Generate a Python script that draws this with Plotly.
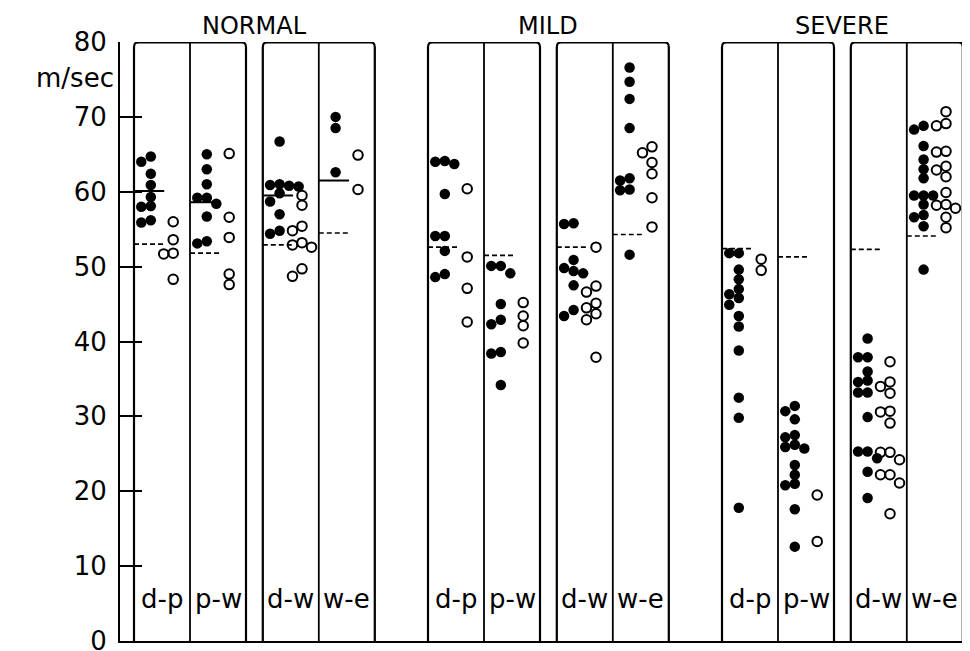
import plotly.graph_objects as go

# ---------------- data (m/sec) ----------------
groups = ["NORMAL", "MILD", "SEVERE"]
segments = ["d-p", "p-w", "d-w", "w-e"]
y_tick_values = [0, 10, 20, 30, 40, 50, 60, 70, 80]
y_tick_labels = ["0", "10", "20", "30", "40", "50", "60", "70", "80"]

normal_dp_filled = [64.7, 64.0, 62.4, 60.9, 59.3, 58.0, 58.1, 55.9, 56.2]
normal_dp_open = [56.0, 53.6, 51.7, 51.8, 48.3]
normal_pw_filled = [65.0, 63.0, 61.0, 59.2, 59.2, 58.4, 56.7, 53.1, 53.4]
normal_pw_open = [65.1, 56.6, 53.9, 49.0, 47.6]
normal_dw_filled = [66.7, 61.0, 60.8, 60.9, 60.7, 59.8, 58.7, 57.0, 54.8, 54.4]
normal_dw_open = [59.5, 58.2, 55.4, 54.8, 52.6, 53.2, 52.9, 49.7, 48.7]
normal_we_filled = [70.0, 68.5, 62.6]
normal_we_open = [64.9, 60.3]

mild_dp_filled = [64.0, 63.7, 64.1, 59.7, 54.1, 54.1, 52.1, 49.0, 48.6]
mild_dp_open = [60.4, 51.3, 47.1, 42.6]
mild_pw_filled = [50.1, 49.1, 50.1, 45.0, 42.3, 42.9, 38.4, 38.6, 34.2]
mild_pw_open = [45.2, 43.4, 42.1, 39.8]
mild_dw_filled = [55.8, 55.7, 50.9, 49.1, 49.8, 49.4, 47.5, 43.4, 44.2]
mild_dw_open = [52.6, 47.4, 46.6, 45.1, 44.5, 43.7, 42.9, 37.9]
mild_we_filled = [76.6, 74.7, 72.4, 68.5, 61.8, 61.5, 60.3, 60.2, 51.6]
mild_we_open = [66.0, 65.2, 63.9, 62.4, 59.2, 55.3]

severe_dp_filled = [51.8, 51.8, 49.6, 48.3, 47.0, 45.8, 46.3, 44.9, 43.4, 42.0,
                    38.8, 32.5, 29.8, 17.8]
severe_dp_open = [51.0, 49.5]
severe_pw_filled = [31.4, 30.7, 29.6, 27.5, 27.2, 25.7, 26.2, 25.9, 23.5, 22.2,
                    20.8, 21.0, 17.6, 12.6]
severe_pw_open = [19.5, 13.3]
severe_dw_filled = [40.4, 37.9, 37.9, 36.0, 34.6, 34.8, 33.2, 33.2, 29.9, 25.3,
                    25.3, 24.4, 22.6, 19.1]
severe_dw_open = [37.3, 34.6, 34.0, 33.1, 30.6, 30.7, 29.1, 25.2, 25.2, 24.2,
                  22.2, 22.2, 21.1, 17.0]
severe_we_filled = [68.8, 68.3, 66.1, 64.3, 63.0, 61.8, 59.5, 59.5, 59.5, 58.3,
                    56.9, 56.6, 55.4, 49.6]
severe_we_open = [70.7, 69.1, 68.8, 65.3, 65.4, 63.4, 62.9, 62.0, 59.9, 58.2,
                  58.3, 57.8, 56.6, 55.2]

normal_solid_means = [60.1, 58.6, 59.5, 61.5]
normal_dashed_means = [53.0, 51.8, 52.9, 54.5]
mild_dashed_means = [52.6, 51.5, 52.6, 54.3]
severe_dashed_means = [52.4, 51.3, 52.3, 54.1]

# ---------------- table built from the arrays ----------------
filled_table = {
    "NORMAL": [normal_dp_filled, normal_pw_filled, normal_dw_filled, normal_we_filled],
    "MILD": [mild_dp_filled, mild_pw_filled, mild_dw_filled, mild_we_filled],
    "SEVERE": [severe_dp_filled, severe_pw_filled, severe_dw_filled, severe_we_filled],
}
open_table = {
    "NORMAL": [normal_dp_open, normal_pw_open, normal_dw_open, normal_we_open],
    "MILD": [mild_dp_open, mild_pw_open, mild_dw_open, mild_we_open],
    "SEVERE": [severe_dp_open, severe_pw_open, severe_dw_open, severe_we_open],
}
solid_table = {"NORMAL": normal_solid_means}
dashed_table = {"NORMAL": normal_dashed_means, "MILD": mild_dashed_means,
                "SEVERE": severe_dashed_means}

# ---------------- layout geometry ----------------
# the page body has an 8px margin, so the figure is sized to fit the window
W, H = 962, 643
M_L, M_R, M_T, M_B = 112, 0, 34, 10
PX_PER_U = 56.0
X_MAX = (W - M_L - M_R) / PX_PER_U
PX_PER_V = (H - M_T - M_B) / 80.0
GROUP_START = 0.25
GROUP_STEP = 5.25
PAIR_GAP = 0.3


def panel_left(g, p):
    return GROUP_START + g * GROUP_STEP + p + (PAIR_GAP if p >= 2 else 0)


def swarm(values, left, center, step=0.17, min_px=8.5):
    placed = []
    xs = [0.0] * len(values)
    order = sorted(range(len(values)), key=lambda i: -values[i])
    for i in order:
        v = values[i]
        chosen = left + center
        for k in [0, -1, 1, -2, 2, -3, 3]:
            rel = center + k * step
            if rel < 0.09 or rel > 0.91:
                continue
            x = left + rel
            ok = True
            for (px, py) in placed:
                dx = (x - px) * PX_PER_U
                dy = (v - py) * PX_PER_V
                if dx * dx + dy * dy < min_px * min_px:
                    ok = False
                    break
            if ok:
                chosen = x
                break
        placed.append((chosen, v))
        xs[i] = chosen
    return xs


fig = go.Figure()
shapes = []
annotations = []

for g, grp in enumerate(groups):
    for pair in (0, 2):
        x0 = panel_left(g, pair)
        x1 = x0 + 2
        rx, ry = 0.09, 0.7
        shapes.append(dict(
            type="path", xref="x", yref="y",
            path=(f"M {x0},0 L {x0},{80 - ry} Q {x0},80 {x0 + rx},80 "
                  f"L {x1 - rx},80 Q {x1},80 {x1},{80 - ry} L {x1},0"),
            line=dict(color="black", width=2.2)))
        shapes.append(dict(type="line", xref="x", yref="y",
                           x0=x0 + 1, x1=x0 + 1, y0=0, y1=80,
                           line=dict(color="black", width=1.8)))
        shapes.append(dict(type="line", xref="x", yref="y",
                           x0=x0 + 0.04, x1=x1 - 0.04, y0=80, y1=80,
                           line=dict(color="black", width=3)))
    annotations.append(dict(
        x=panel_left(g, 0) + 2.15, y=80, xref="x", yref="y",
        text=grp, showarrow=False, yanchor="bottom", yshift=0,
        font=dict(family="DejaVu Sans", size=24, color="black")))

    for p, seg in enumerate(segments):
        left = panel_left(g, p)
        fv = filled_table[grp][p]
        ov = open_table[grp][p]
        fig.add_trace(go.Scatter(
            x=swarm(fv, left, 0.30), y=fv, mode="markers",
            marker=dict(symbol="circle", size=10.5, color="black"),
            showlegend=False, hoverinfo="y"))
        fig.add_trace(go.Scatter(
            x=swarm(ov, left, 0.70), y=ov, mode="markers",
            marker=dict(symbol="circle-open", size=9.5, color="black",
                        line=dict(width=2)),
            showlegend=False, hoverinfo="y"))
        if grp in solid_table:
            m = solid_table[grp][p]
            fig.add_trace(go.Scatter(
                x=[left, left + 0.54], y=[m, m], mode="lines",
                line=dict(color="black", width=2), showlegend=False,
                hoverinfo="skip"))
        d = dashed_table[grp][p]
        fig.add_trace(go.Scatter(
            x=[left, left + 0.52], y=[d, d], mode="lines",
            line=dict(color="black", width=1.6, dash="5px,3px"),
            showlegend=False, hoverinfo="skip"))
        annotations.append(dict(
            x=left + 0.5, y=5.6, xref="x", yref="y", text=seg,
            showarrow=False,
            font=dict(family="DejaVu Sans", size=26, color="black")))

annotations.append(dict(
    x=0, y=75.2, xref="paper", yref="y", text="m/sec", showarrow=False,
    xanchor="right", xshift=-4,
    font=dict(family="DejaVu Sans", size=26, color="black")))

fig.update_layout(
    width=W, height=H,
    margin=dict(l=M_L, r=M_R, t=M_T, b=M_B, autoexpand=False),
    paper_bgcolor="white", plot_bgcolor="white",
    shapes=shapes, annotations=annotations,
    xaxis=dict(range=[0, X_MAX], showgrid=False, zeroline=False,
               showticklabels=False, ticks="", showline=True,
               linecolor="black", linewidth=2, fixedrange=True,
               automargin=False),
    yaxis=dict(range=[0, 80], showgrid=False, zeroline=False,
               tickvals=y_tick_values, ticktext=y_tick_labels,
               ticks="inside", ticklen=22, tickwidth=2, tickcolor="black",
               showline=True, linecolor="black", linewidth=2,
               tickfont=dict(family="DejaVu Sans", size=26, color="black"),
               ticklabelstandoff=6, ticklabeloverflow="allow",
               fixedrange=True, automargin=False),
)

fig.write_html("out.html")
